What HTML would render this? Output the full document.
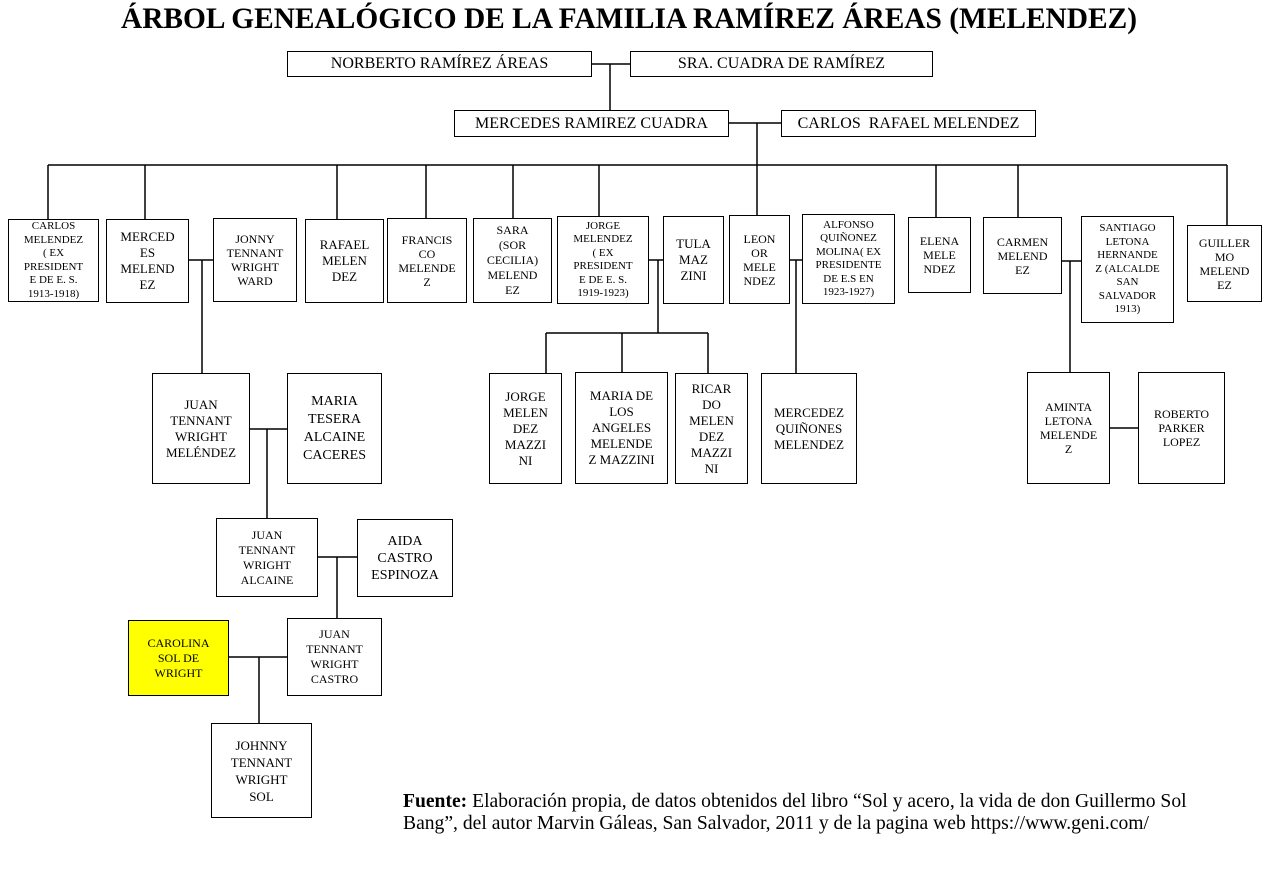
<!DOCTYPE html>
<html><head><meta charset="utf-8"><style>
body{margin:0;background:#fff;width:1276px;height:883px;position:relative;overflow:hidden;font-family:"Liberation Serif",serif;}
.t{position:absolute;left:0;width:1258px;top:3px;text-align:center;font-weight:bold;font-size:29.4px;white-space:nowrap;}
.b{position:absolute;box-sizing:border-box;border:1.5px solid #000;display:flex;align-items:center;justify-content:center;text-align:center;font-size:12px;line-height:14px;background:#fff;}
.s{font-size:11px;line-height:13.5px}
.h{font-size:16px;line-height:18px}
.f{position:absolute;left:403px;top:791px;width:860px;font-size:19.6px;line-height:22px;white-space:nowrap;}
svg{position:absolute;left:0;top:0}
</style></head><body>
<div class="t">ÁRBOL GENEALÓGICO DE LA FAMILIA RAMÍREZ ÁREAS (MELENDEZ)</div>
<svg width="1276" height="883" stroke="#000" stroke-width="1.5" fill="none">
<path d="M592 64H630M610 64V110M729 123H781M757 123V165M48 165H1227"/>
<path d="M48 165V219M145 165V219M337 165V219M426 165V219M513 165V218M599 165V216M757 165V216M936 165V217M1018 165V217M1227 165V225"/>
<path d="M189 260H213M202 260V373M250 429H287M267 429V518"/>
<path d="M649 260H663M658 260V333M546 333H708M546 333V373M622 333V372M708 333V373"/>
<path d="M790 260H802M796 260V373M1062 261H1081M1070 261V372M1110 428H1138"/>
<path d="M318 557H357M337 557V618M229 657H287M259 657V723"/>
</svg>
<div class="b h" style="left:287px;top:51px;width:305px;height:26px">NORBERTO RAMÍREZ ÁREAS</div>
<div class="b h" style="left:630px;top:51px;width:303px;height:26px">SRA. CUADRA DE RAMÍREZ</div>
<div class="b h" style="left:454px;top:110px;width:275px;height:27px">MERCEDES RAMIREZ CUADRA</div>
<div class="b h" style="left:781px;top:110px;width:255px;height:27px">CARLOS &nbsp;RAFAEL MELENDEZ</div>

<div class="b s" style="left:8px;top:219px;width:91px;height:83px">CARLOS<br>MELENDEZ<br>( EX<br>PRESIDENT<br>E DE E. S.<br>1913-1918)</div>
<div class="b" style="left:106px;top:219px;width:83px;height:84px;font-size:13px;line-height:16px">MERCED<br>ES<br>MELEND<br>EZ</div>
<div class="b" style="left:213px;top:218px;width:84px;height:84px">JONNY<br>TENNANT<br>WRIGHT<br>WARD</div>
<div class="b" style="left:305px;top:219px;width:79px;height:84px;font-size:13px;line-height:16px">RAFAEL<br>MELEN<br>DEZ</div>
<div class="b" style="left:387px;top:218px;width:80px;height:85px">FRANCIS<br>CO<br>MELENDE<br>Z</div>
<div class="b" style="left:473px;top:218px;width:79px;height:85px;line-height:15px">SARA<br>(SOR<br>CECILIA)<br>MELEND<br>EZ</div>
<div class="b s" style="left:557px;top:216px;width:92px;height:88px">JORGE<br>MELENDEZ<br>( EX<br>PRESIDENT<br>E DE E. S.<br>1919-1923)</div>
<div class="b" style="left:663px;top:216px;width:61px;height:88px;font-size:13px;line-height:16px">TULA<br>MAZ<br>ZINI</div>
<div class="b" style="left:729px;top:215px;width:61px;height:89px">LEON<br>OR<br>MELE<br>NDEZ</div>
<div class="b s" style="left:802px;top:214px;width:93px;height:90px">ALFONSO<br>QUIÑONEZ<br>MOLINA( EX<br>PRESIDENTE<br>DE E.S EN<br>1923-1927)</div>
<div class="b" style="left:908px;top:217px;width:63px;height:76px">ELENA<br>MELE<br>NDEZ</div>
<div class="b" style="left:983px;top:217px;width:79px;height:77px">CARMEN<br>MELEND<br>EZ</div>
<div class="b s" style="left:1081px;top:216px;width:93px;height:107px">SANTIAGO<br>LETONA<br>HERNANDE<br>Z (ALCALDE<br>SAN<br>SALVADOR<br>1913)</div>
<div class="b" style="left:1187px;top:225px;width:75px;height:77px">GUILLER<br>MO<br>MELEND<br>EZ</div>

<div class="b" style="left:152px;top:373px;width:98px;height:111px;font-size:13px;line-height:16px">JUAN<br>TENNANT<br>WRIGHT<br>MELÉNDEZ</div>
<div class="b" style="left:287px;top:373px;width:95px;height:111px;font-size:14px;line-height:18px">MARIA<br>TESERA<br>ALCAINE<br>CACERES</div>
<div class="b" style="left:489px;top:373px;width:73px;height:111px;font-size:13px;line-height:16px">JORGE<br>MELEN<br>DEZ<br>MAZZI<br>NI</div>
<div class="b" style="left:575px;top:372px;width:93px;height:112px;font-size:13px;line-height:16px">MARIA DE<br>LOS<br>ANGELES<br>MELENDE<br>Z MAZZINI</div>
<div class="b" style="left:675px;top:373px;width:73px;height:111px;font-size:13px;line-height:16px">RICAR<br>DO<br>MELEN<br>DEZ<br>MAZZI<br>NI</div>
<div class="b" style="left:761px;top:373px;width:96px;height:111px;font-size:13px;line-height:16px">MERCEDEZ<br>QUIÑONES<br>MELENDEZ</div>
<div class="b" style="left:1027px;top:372px;width:83px;height:112px">AMINTA<br>LETONA<br>MELENDE<br>Z</div>
<div class="b" style="left:1138px;top:372px;width:87px;height:112px">ROBERTO<br>PARKER<br>LOPEZ</div>

<div class="b" style="left:216px;top:518px;width:102px;height:79px;line-height:15px">JUAN<br>TENNANT<br>WRIGHT<br>ALCAINE</div>
<div class="b" style="left:357px;top:519px;width:96px;height:78px;font-size:14px;line-height:17px">AIDA<br>CASTRO<br>ESPINOZA</div>
<div class="b" style="left:128px;top:620px;width:101px;height:76px;background:#ffff00;line-height:15px">CAROLINA<br>SOL DE<br>WRIGHT</div>
<div class="b" style="left:287px;top:618px;width:95px;height:78px;line-height:15px">JUAN<br>TENNANT<br>WRIGHT<br>CASTRO</div>
<div class="b" style="left:211px;top:723px;width:101px;height:95px;font-size:13px;line-height:17px">JOHNNY<br>TENNANT<br>WRIGHT<br>SOL</div>

<div class="f"><b>Fuente:</b> Elaboración propia, de datos obtenidos del libro “Sol y acero, la vida de don Guillermo Sol<br>Bang”, del autor Marvin Gáleas, San Salvador, 2011 y de la pagina web https://www.geni.com/</div>
</body></html>
